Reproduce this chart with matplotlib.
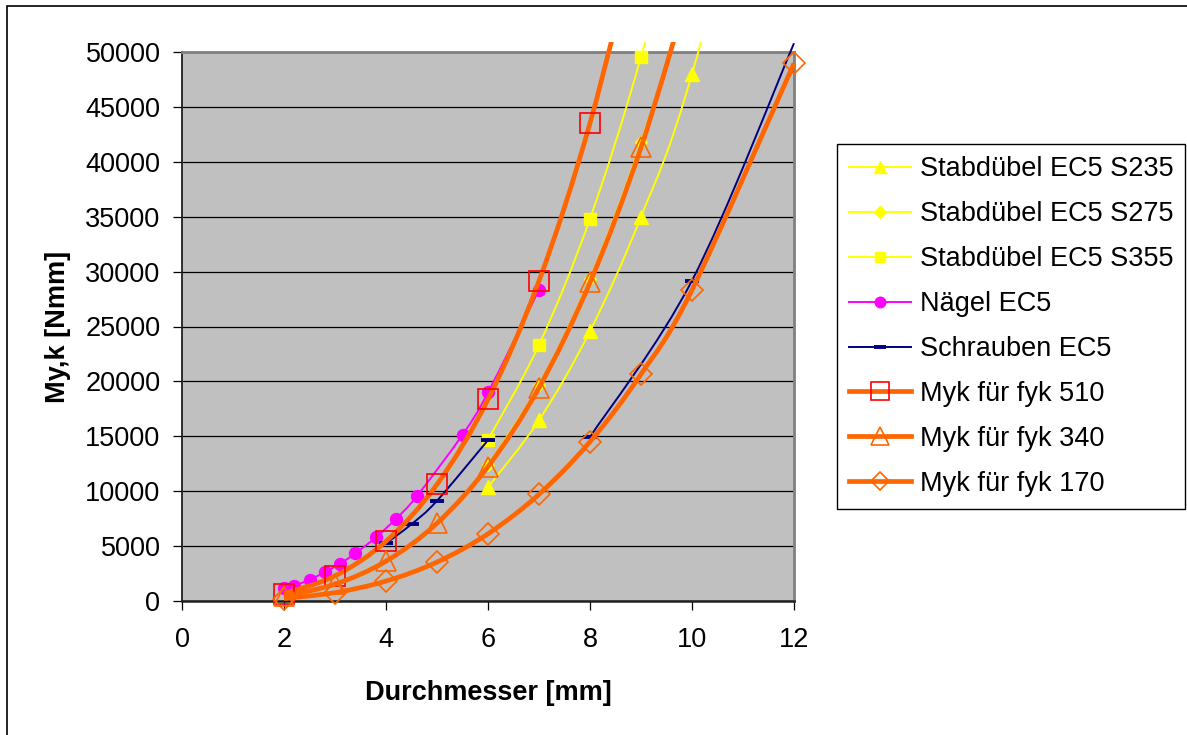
import numpy as np
import matplotlib
matplotlib.use("Agg")
import matplotlib.pyplot as plt
from matplotlib.path import Path
from matplotlib.patches import PathPatch, Rectangle
from matplotlib.lines import Line2D

plt.rcParams['font.family'] = ['Liberation Sans', 'DejaVu Sans']

# Durchmesser [mm] und My,k [Nmm] je Reihe
d_dowel = [6, 7, 8, 9, 10, 12]
my_s235 = [10370, 16460, 24580, 34990, 48000, 82940]
my_s275 = [12380, 19670, 29350, 41800, 57330, 99070]
my_s355 = [14690, 23320, 34820, 49570, 68000, 117500]

d_nail = [2.0, 2.2, 2.5, 2.8, 3.1, 3.4, 3.8, 4.2, 4.6, 5.5, 6.0, 7.0]
my_nail = [1200, 1400, 1950, 2620, 3410, 4340, 5790, 7510, 9520, 15140, 18990, 28350]

d_screw_a = [4, 4.5, 5, 6]
my_screw_a = [5250, 7000, 9130, 14650]
d_screw_b = [8, 10, 12]
my_screw_b = [14940, 29180, 50800]

d_510 = [2, 3, 4, 5, 6, 7, 8, 9]
my_510 = [680, 2295, 5440, 10625, 18360, 29155, 43520, 61965]
d_340 = [2, 3, 4, 5, 6, 7, 8, 9, 10]
my_340 = [453, 1530, 3627, 7083, 12240, 19437, 29013, 41310, 56667]
d_170 = [2, 3, 4, 5, 6, 7, 8, 9, 10, 12]
my_170 = [227, 765, 1813, 3542, 6120, 9718, 14507, 20655, 28333, 48960]

labels = ["Stabdübel EC5 S235", "Stabdübel EC5 S275", "Stabdübel EC5 S355",
          "Nägel EC5", "Schrauben EC5",
          "Myk für fyk 510", "Myk für fyk 340", "Myk für fyk 170"]

ORANGE = '#FF6600'
YELLOW = '#FFFF00'


def smooth_path(xs, ys):
    # bezier curve through the points (excel-style smoothed line)
    pts = np.column_stack([xs, ys]).astype(float)
    n = len(pts)
    verts = [pts[0]]
    codes = [Path.MOVETO]
    for i in range(n - 1):
        p0 = pts[i - 1] if i > 0 else pts[i]
        p1, p2 = pts[i], pts[i + 1]
        p3 = pts[i + 2] if i + 2 < n else pts[i + 1]
        verts += [p1 + (p2 - p0) / 6, p2 - (p3 - p1) / 6, p2]
        codes += [Path.CURVE4] * 3
    return Path(verts, codes)


fig = plt.figure(figsize=(11.87, 7.35), dpi=100)
ax = fig.add_axes([182 / 1187, 1 - 601 / 735, 612 / 1187, 549 / 735])
ax.set_facecolor('#C0C0C0')

# lines may run a little past the plot area before being cut
clip_rect = Rectangle((-0.03, -0.03), 1.06, 1.048, transform=ax.transAxes,
                      facecolor='none', edgecolor='none')


def draw_series(xs, ys, color, lw, z):
    patch = PathPatch(smooth_path(xs, ys), facecolor='none', edgecolor=color,
                      lw=lw, zorder=z, transform=ax.transData)
    ax.add_patch(patch)
    patch.set_clip_path(clip_rect)


def draw_markers(xs, ys, z, **kw):
    xs = np.asarray(xs, float)
    ys = np.asarray(ys, float)
    m = ys <= 50000
    ax.plot(xs[m], ys[m], ls='none', clip_on=False, zorder=z + 0.5, **kw)


series = [
    (d_dowel, my_s235, YELLOW, 1.4, dict(marker='^', ms=10, mfc=YELLOW, mec=YELLOW)),
    (d_dowel, my_s275, YELLOW, 1.4, dict(marker='D', ms=6.5, mfc=YELLOW, mec=YELLOW)),
    (d_dowel, my_s355, YELLOW, 1.4, dict(marker='s', ms=8.6, mfc=YELLOW, mec=YELLOW)),
    (d_nail, my_nail, '#FF00FF', 1.4, dict(marker='o', ms=8.6, mfc='#FF00FF', mec='#FF00FF')),
    (d_screw_a, my_screw_a, '#000080', 1.4, dict(marker='_', ms=10, mew=2.8, mec='#000080')),
    (d_510, my_510, ORANGE, 3.4, dict(marker='s', ms=14, mfc='none', mec='#FF0000', mew=1.2)),
    (d_340, my_340, ORANGE, 3.4, dict(marker='^', ms=15, mfc='none', mec=ORANGE, mew=1.2)),
    (d_170, my_170, ORANGE, 3.4, dict(marker='D', ms=10.8, mfc='none', mec=ORANGE, mew=1.2)),
]

handles = []
for i, (xs, ys, color, lw, mk) in enumerate(series):
    z = 3 + i
    draw_series(xs, ys, color, lw, z)
    draw_markers(xs, ys, z, **mk)
    if i == 4:
        draw_series(d_screw_b, my_screw_b, color, lw, z)
        draw_markers(d_screw_b, my_screw_b, z, **mk)
    handles.append(Line2D([], [], color=color, lw=lw, **mk))

ax.set_xlim(0, 12)
ax.set_ylim(0, 50000)
ax.set_xticks(np.arange(0, 13, 2))
ax.set_yticks(np.arange(0, 50001, 5000))
ax.yaxis.grid(True, color='black', lw=0.9)
ax.set_axisbelow(True)

ax.spines['left'].set_color('#202020')
ax.spines['left'].set_linewidth(1.3)
ax.spines['bottom'].set_color('#202020')
ax.spines['bottom'].set_linewidth(1.8)
for s in ('top', 'right'):
    ax.spines[s].set_color('#808080')
    ax.spines[s].set_linewidth(2)

ax.tick_params(direction='out', length=6.5, width=0.9, color='black',
               labelsize=19.5, labelcolor='black')
ax.tick_params(axis='y', pad=9)
ax.tick_params(axis='x', pad=12)

ax.set_xlabel("Durchmesser [mm]", fontsize=19.5, fontweight='bold', labelpad=20)
ax.set_ylabel("My,k [Nmm]", fontsize=19.5, fontweight='bold', labelpad=10)

leg = ax.legend(handles, labels, loc='upper left',
                bbox_to_anchor=(837 / 1187, 1 - 144 / 735),
                bbox_transform=fig.transFigure, borderaxespad=0,
                fontsize=19.5, frameon=True, fancybox=False, framealpha=1,
                edgecolor='black', handlelength=2.3, handletextpad=0.3,
                labelspacing=0.7, borderpad=0.45, numpoints=1, markerscale=0.88)
leg.get_frame().set_linewidth(1.0)
leg.set_zorder(20)

# outer chart border
fig.patches.append(Rectangle((7 / 1187, -0.1), 1.2, 1.1 - 6 / 735,
                             transform=fig.transFigure, fill=False,
                             edgecolor='black', lw=1.2))

fig.savefig("out.png", dpi=100)
